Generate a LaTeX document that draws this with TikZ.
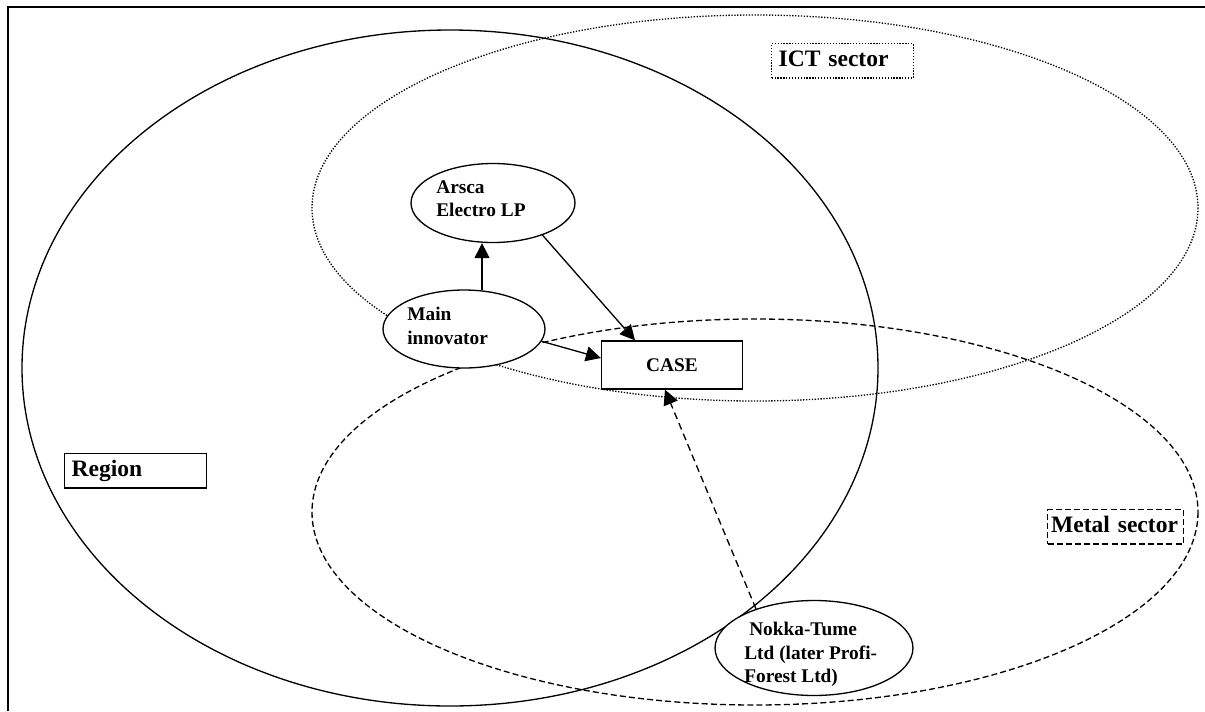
\documentclass[tikz,border=0pt]{standalone}
\usepackage{fontspec}
\setmainfont{Liberation Serif}
\usetikzlibrary{arrows.meta, calc, positioning, shapes.geometric}

\newcommand{\NodeFont}{\fontsize{11}{13.4}\selectfont\bfseries}	%Schrift in den Akteuren
\newcommand{\LabelFont}{\fontsize{13.4}{16}\selectfont\bfseries}	%Schrift der Bereichsnamen

\begin{document}
\begin{tikzpicture}
	[
	x=0.02cm, y=-0.02cm,																%1 Einheit = 1 Pixel, y nach unten
	Rahmen/.style={line width=1.1pt},													%Rahmen oben und links
	Gebiet/.style={line width=0.75pt},													%Region (durchgezogen)
	ICTLine/.style={line width=0.75pt, dash pattern=on 0.75pt off 0.9pt},				%ICT sector (gepunktet)
	MetalLine/.style={line width=0.75pt, dash pattern=on 3.4pt off 1.8pt},				%Metal sector (gestrichelt)
	Akteur/.style={ellipse, draw, fill=white, line width=0.75pt, inner sep=0pt},		%Ellipsen der Akteure
	AkteurText/.style={font=\NodeFont, align=left, anchor=north west, inner sep=0pt},	%Text in den Ellipsen
	LabelBox/.style={draw, fill=white, line width=0.75pt, font=\LabelFont, anchor=north west, align=left,
		inner xsep=4pt, inner ysep=0pt, text height=12.8pt, text depth=6.8pt},			%Kasten mit Bereichsname
	Pfeil/.style={-{Triangle[length=8.5pt, width=8.5pt]}, line width=0.75pt},			%Verbindungspfeil
	PfeilDash/.style={dash pattern=on 4pt off 2.5pt}									%gestrichelter Pfeil
	]

	\useasboundingbox (0,0) rectangle (1205,711);

	% Rahmen
	\draw[Rahmen] (8,711) -- (8,7) -- (1205,7);

	% Bereiche
	\draw[Gebiet]    (450,368) ellipse [x radius=428, y radius=338];	%Region
	\draw[ICTLine]   (755,208) ellipse [x radius=443, y radius=193];	%ICT sector
	\draw[MetalLine] (755,512) ellipse [x radius=443, y radius=193];	%Metal sector

	% Bereichsnamen
	\node[LabelBox, text width=2.55cm] (regionBox) at (64,453) {Region};
	\node[LabelBox, ICTLine, text width=2.55cm] (ictBox) at (771,43) {ICT sector};
	\node[LabelBox, MetalLine, text width=2.58cm, inner xsep=2pt] (metalBox) at (1047,509) {Metal sector};

	% Akteure
	\node[Akteur, minimum width=3.28cm, minimum height=1.58cm] (arsca) at (493,203) {};
	\node[Akteur, minimum width=3.24cm, minimum height=1.56cm] (main)  at (464,329) {};
	\node[Akteur, minimum width=3.96cm, minimum height=1.9cm]  (nokka) at (814,648) {};
	\node[draw, fill=white, line width=0.75pt, minimum width=2.82cm, minimum height=0.96cm, font=\NodeFont] (case) at (672,365) {CASE};

	\node[AkteurText] (arscaTxt) at (436,180) {Arsca\\Electro LP};
	\node[AkteurText] (mainTxt)  at (407,307) {Main\\innovator};
	\node[AkteurText] (nokkaTxt) at (744,622) {\hspace*{2.8pt}Nokka-Tume\\Ltd (later Profi-\\Forest Ltd)};

	% Verbindungen
	\draw[Pfeil] (main.65) -- (main.65 |- arsca.south);
	\draw[Pfeil] (arsca.-33) -- ($(case.north west)!0.24!(case.north east)$);
	\draw[Pfeil] (main.-9) -- ($(case.west)+(0,-7)$);
	\draw[Pfeil, PfeilDash] (nokka.146) -- ($(case.south)+(-7,0)$);
\end{tikzpicture}
\end{document}
